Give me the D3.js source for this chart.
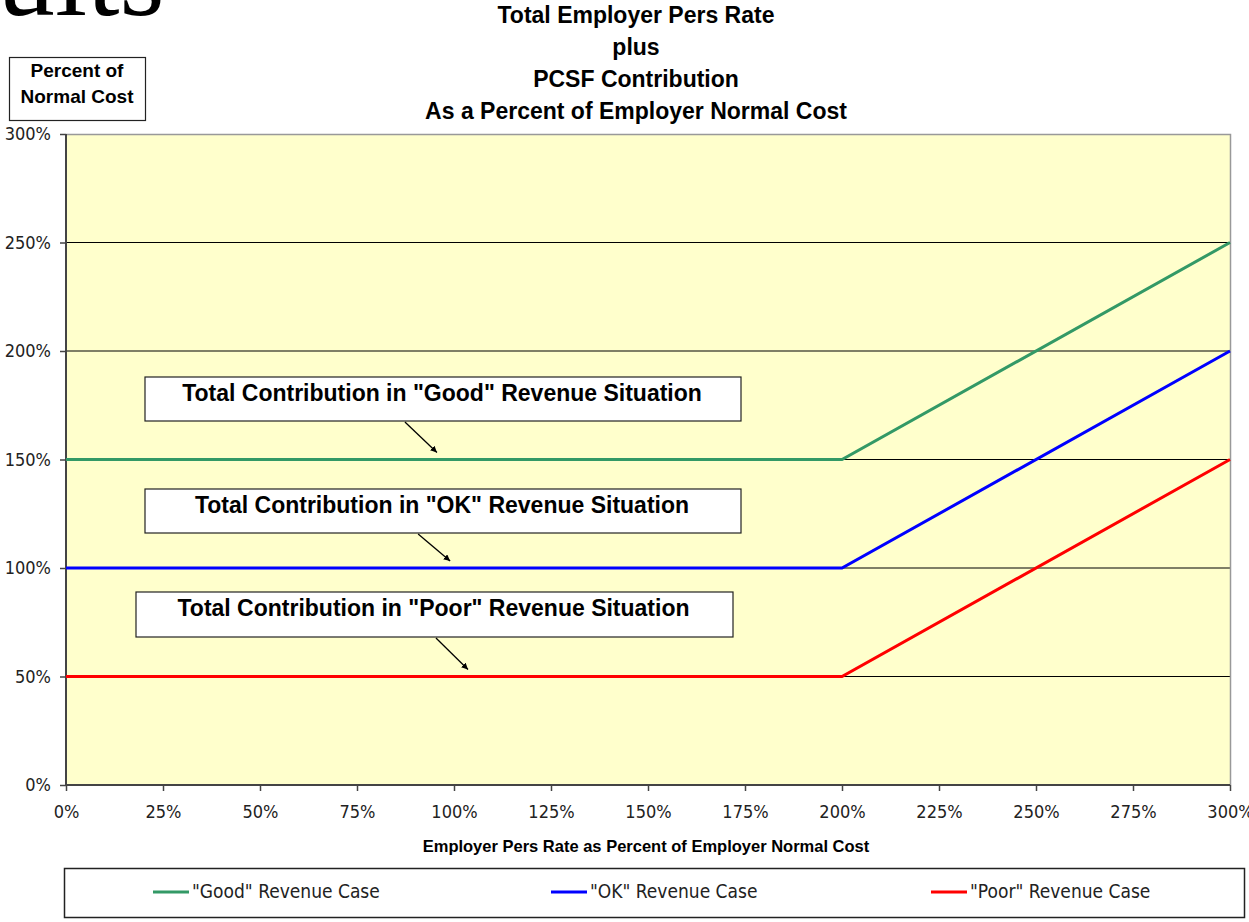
<!DOCTYPE html>
<html>
<head>
<meta charset="utf-8">
<script src="https://cdn.jsdelivr.net/npm/d3@7"></script>
<style>
  body { margin: 0; background: #fff; }
  svg text { font-family: "Liberation Sans", Arial, sans-serif; }
</style>
</head>
<body>
<div id="chart"></div>
<script>
// data
const xTicks = [0, 25, 50, 75, 100, 125, 150, 175, 200, 225, 250, 275, 300]
const yTicks = [0, 50, 100, 150, 200, 250, 300]
const goodCase = [{x: 0, y: 150}, {x: 200, y: 150}, {x: 300, y: 250}]
const okCase   = [{x: 0, y: 100}, {x: 200, y: 100}, {x: 300, y: 200}]
const poorCase = [{x: 0, y: 50},  {x: 200, y: 50},  {x: 300, y: 150}]
const seriesNames = ['"Good" Revenue Case', '"OK" Revenue Case', '"Poor" Revenue Case']
const titleLines = ["Total Employer Pers Rate", "plus", "PCSF Contribution", "As a Percent of Employer Normal Cost"]
const notes = [
  {text: 'Total Contribution in "Good" Revenue Situation', tipX: 95.6, tipY: 150},
  {text: 'Total Contribution in "OK" Revenue Situation', tipX: 99, tipY: 100},
  {text: 'Total Contribution in "Poor" Revenue Situation', tipX: 103.6, tipY: 50}
]

const colors = ["#339966", "#0000ff", "#ff0000"]

let W = 1249, H = 922
let margin = {top: 134, left: 66}
let plotW = 1230 - 66, plotH = 785 - 134
let tickFont = '"DejaVu Sans Condensed", "Liberation Sans", Arial, sans-serif'

let svg = d3.select("#chart").append("svg")
            .attr("width", W).attr("height", H)

// cut-off slide heading in the corner
svg.append("text")
   .attr("x", -3).attr("y", 15)
   .style("font-family", '"Liberation Serif", "Times New Roman", serif')
   .style("font-size", "116px")
   .attr("fill", "#000")
   .text("ults")

let x = d3.scaleLinear().domain([0, 300]).range([0, plotW])
let y = d3.scaleLinear().domain([0, 300]).range([plotH, 0])

let g = svg.append("g").attr("transform", "translate(" + margin.left + "," + margin.top + ")")

g.append("rect")
 .attr("width", plotW).attr("height", plotH)
 .attr("fill", "#ffffcc")

// gridlines
g.selectAll(".grid")
 .data(yTicks.filter(d => d > 0 && d < 300))
 .enter().append("line")
 .attr("x1", 0).attr("x2", plotW)
 .attr("y1", d => y(d)).attr("y2", d => y(d))
 .attr("stroke", "#000").attr("stroke-width", 1.2)

// top / right border
g.append("path")
 .attr("d", "M0,0.5H" + (plotW + 0.5) + "V" + plotH)
 .attr("fill", "none").attr("stroke", "#999").attr("stroke-width", 1.5)

// axes
let yAxis = g.append("g")
             .call(d3.axisLeft(y).tickValues(yTicks).tickSize(6).tickPadding(9).tickFormat(d => d + "%"))
let xAxis = g.append("g").attr("transform", "translate(0," + plotH + ")")
             .call(d3.axisBottom(x).tickValues(xTicks).tickSize(6).tickPadding(14).tickFormat(d => d + "%"))
;[xAxis, yAxis].forEach(a => {
  a.select(".domain").attr("stroke", "#444").attr("stroke-width", 2)
  a.selectAll(".tick line").attr("stroke", "#444").attr("stroke-width", 1.5)
  a.selectAll("text").style("font-size", "18px").attr("fill", "#222")
   .style("font-family", tickFont)
})
xAxis.select(".domain").attr("d", "M0,0H" + plotW)
yAxis.select(".domain").attr("d", "M0,0V" + plotH)

// series
let line = d3.line().x(d => x(d.x)).y(d => y(d.y))
;[goodCase, okCase, poorCase].forEach((s, i) => {
  g.append("path").datum(s)
   .attr("d", line)
   .attr("fill", "none")
   .attr("stroke", colors[i])
   .attr("stroke-width", 3)
})

// annotation boxes with arrows
svg.append("defs").append("marker")
   .attr("id", "arr").attr("viewBox", "0 0 10 10")
   .attr("refX", 10).attr("refY", 5)
   .attr("markerWidth", 5).attr("markerHeight", 5)
   .attr("orient", "auto")
   .append("path").attr("d", "M0,0L10,5L0,10z").attr("fill", "#000")

let boxes = [
  {x0: 145, y0: 377, w: 596, h: 44},
  {x0: 145, y0: 489, w: 596, h: 44},
  {x0: 136, y0: 592, w: 597, h: 45}
]
notes.forEach((n, i) => {
  let b = boxes[i]
  svg.append("rect")
     .attr("x", b.x0).attr("y", b.y0).attr("width", b.w).attr("height", b.h)
     .attr("fill", "#fff").attr("stroke", "#222").attr("stroke-width", 1.2)
  svg.append("text")
     .attr("x", b.x0 + b.w / 2 - 1).attr("y", b.y0 + 18)
     .attr("text-anchor", "middle").attr("dominant-baseline", "middle")
     .style("font-size", "23px").style("font-weight", "bold")
     .text(n.text)
  let tx = margin.left + x(n.tipX), ty = margin.top + y(n.tipY) - 7
  svg.append("line")
     .attr("x1", tx - 32).attr("y1", b.y0 + b.h + 1)
     .attr("x2", tx).attr("y2", ty)
     .attr("stroke", "#000").attr("stroke-width", 1.3)
     .attr("marker-end", "url(#arr)")
})

// title
svg.selectAll(".title")
   .data(titleLines)
   .enter().append("text")
   .attr("x", 636).attr("y", (d, i) => 17 + i * 32)
   .attr("text-anchor", "middle").attr("dominant-baseline", "middle")
   .style("font-size", "23px").style("font-weight", "bold")
   .text(d => d)

// y axis label box
svg.append("rect")
   .attr("x", 9.5).attr("y", 57.5).attr("width", 136).attr("height", 63)
   .attr("fill", "#fff").attr("stroke", "#222").attr("stroke-width", 1.2)
;["Percent of", "Normal Cost"].forEach((t, i) => {
  svg.append("text")
     .attr("x", 77).attr("y", 72 + i * 26)
     .attr("text-anchor", "middle").attr("dominant-baseline", "middle")
     .style("font-size", "19px").style("font-weight", "bold")
     .text(t)
})

// x axis title
svg.append("text")
   .attr("x", 646).attr("y", 848)
   .attr("text-anchor", "middle").attr("dominant-baseline", "middle")
   .style("font-size", "16.5px").style("font-weight", "bold")
   .text("Employer Pers Rate as Percent of Employer Normal Cost")

// legend
svg.append("rect")
   .attr("x", 64.5).attr("y", 868.5).attr("width", 1180).attr("height", 49)
   .attr("fill", "#fff").attr("stroke", "#222").attr("stroke-width", 1.5)
let legX = [153, 551, 931]
seriesNames.forEach((s, i) => {
  svg.append("line")
     .attr("x1", legX[i]).attr("x2", legX[i] + 36)
     .attr("y1", 892).attr("y2", 892)
     .attr("stroke", colors[i]).attr("stroke-width", 3)
  svg.append("text")
     .attr("x", legX[i] + 39).attr("y", 892)
     .attr("dominant-baseline", "middle")
     .style("font-size", "19px").attr("fill", "#222")
     .style("font-family", tickFont)
     .text(s)
})
</script>
</body>
</html>
